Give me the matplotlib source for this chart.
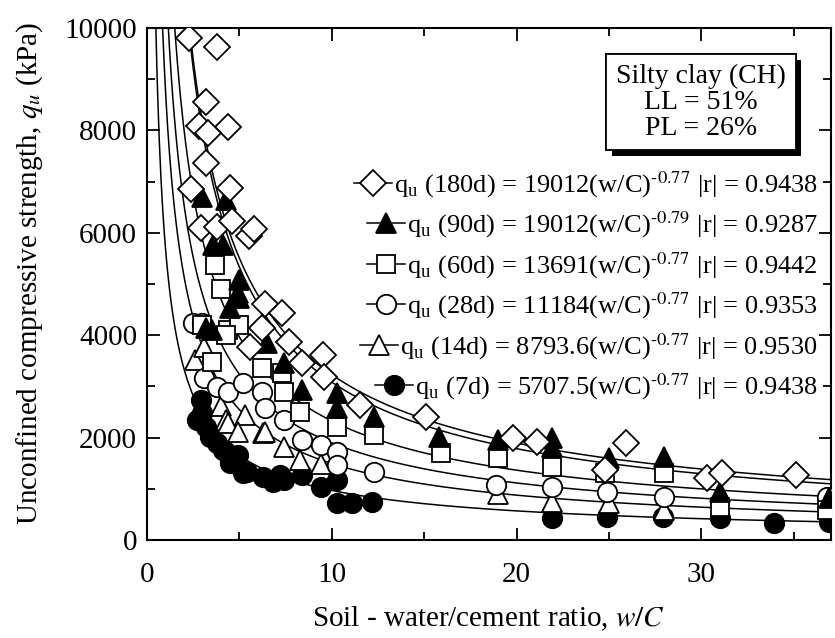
import numpy as np
import matplotlib
matplotlib.use('Agg')
import matplotlib.pyplot as plt
from matplotlib import patheffects

plt.rcParams['font.family'] = ['Liberation Serif', 'DejaVu Serif']
plt.rcParams['mathtext.fontset'] = 'stix'
plt.rcParams['font.size'] = 20

# measured qu (kPa) against w/C for each curing age
x180 = [2.3, 3.8, 3.2, 2.8, 4.4, 3.3, 3.2, 2.4, 4.5, 2.9, 3.8, 4.6, 5.5, 5.8, 6.4, 7.3, 6.2, 7.7,
        5.6, 8.4, 9.5, 9.6, 11.5, 15.1, 19.8, 21.1, 25.9, 24.8, 30.3, 31.1, 35.1]
y180 = [9800, 9630, 8560, 8090, 8070, 7950, 7360, 6860, 6880, 6090, 6110, 6230, 5940, 6070, 4600,
        4430, 4140, 3870, 3770, 3460, 3610, 3180, 2640, 2400, 1990, 1910, 1890, 1370, 1210, 1310, 1270]

x90 = [3.0, 4.3, 3.6, 4.1, 5.0, 4.9, 5.0, 4.5, 3.2, 3.5, 6.5, 7.4, 8.4, 10.3, 10.3, 12.3, 15.8,
       19.0, 21.9, 21.9, 25.0, 28.0, 31.0, 36.9]
y90 = [6700, 6640, 5760, 5760, 5080, 4820, 4730, 4530, 4140, 4100, 3850, 3460, 2930, 2870, 2580,
       2400, 2010, 1950, 1990, 1820, 1600, 1620, 940, 820]

x60 = [3.7, 4.0, 4.4, 3.0, 5.0, 3.5, 4.3, 6.2, 7.3, 7.4, 8.3, 10.3, 12.3, 15.9, 19.0, 21.9, 24.8,
       28.0, 31.0, 36.8]
y60 = [5370, 4900, 4100, 4200, 4200, 3480, 4000, 3360, 3260, 2890, 2500, 2210, 2050, 1700, 1600,
       1430, 1310, 1310, 650, 590]

x28 = [2.5, 3.0, 3.1, 3.8, 4.4, 5.2, 6.2, 6.4, 7.4, 8.4, 9.4, 10.3, 10.3, 12.3, 18.9, 21.9, 24.9,
       28.0, 36.8]
y28 = [4240, 4240, 3160, 2990, 2890, 3070, 2890, 2580, 2340, 1950, 1860, 1720, 1470, 1330, 1070,
       1040, 940, 840, 840]

x14 = [2.6, 3.1, 4.0, 4.3, 5.3, 4.4, 4.9, 6.3, 6.4, 7.4, 8.3, 9.4, 19.0, 21.9, 25.0, 28.0]
y14 = [3520, 3770, 2620, 2340, 2440, 2290, 2110, 2090, 2110, 1820, 1560, 1480, 900, 740, 720, 590]

x7 = [2.9, 3.0, 2.7, 3.2, 3.4, 3.8, 4.1, 4.3, 4.5, 4.9, 5.2, 5.4, 6.3, 6.8, 7.2, 7.4, 8.4, 9.4,
      10.3, 10.3, 11.1, 12.2, 21.9, 24.9, 27.9, 31.0, 33.9, 36.9]
y7 = [2730, 2480, 2350, 2200, 2010, 1900, 1760, 1720, 1500, 1660, 1310, 1330, 1230, 1130, 1270,
      1170, 1270, 1040, 1170, 720, 720, 740, 430, 450, 450, 430, 330, 350]

# fitted power laws qu = a (w/C)^b
ages = [180, 90, 60, 28, 14, 7]
coef = [19012, 19012, 13691, 11184, 8793.6, 5707.5]
expo = [-0.77, -0.79, -0.77, -0.77, -0.77, -0.77]
rval = [0.9438, 0.9287, 0.9442, 0.9353, 0.9530, 0.9438]

xs = [x180, x90, x60, x28, x14, x7]
ys = [y180, y90, y60, y28, y14, y7]
marks = [('D', 'white', 13.5), ('^', 'black', 15), ('s', 'white', 13),
         ('o', 'white', 14), ('^', 'white', 15), ('o', 'black', 14)]

fig = plt.figure(figsize=(8.35, 6.38), dpi=100)
ax = fig.add_axes([0.176, 0.1536, 0.819, 0.8025])

xx = np.linspace(0.3, 37, 800)
for a, b in zip(coef, expo):
    ax.plot(xx, a * xx ** b, color='black', lw=1.1, zorder=1)

# youngest first so older ages sit on top
for i in range(5, -1, -1):
    m, fc, ms = marks[i]
    ax.plot(xs[i], ys[i], ls='none', marker=m, ms=ms, mfc=fc, mec='black', mew=1.3, zorder=2 + (5 - i))

ax.set_xlim(0, 37)
ax.set_ylim(0, 10000)
ax.set_xticks([0, 10, 20, 30])
ax.set_xticks([5, 15, 25, 35], minor=True)
ax.set_yticks(np.arange(0, 10001, 2000))
ax.set_yticks(np.arange(1000, 10000, 2000), minor=True)
ax.tick_params(which='both', direction='in', top=True, right=True, width=1.3, labelsize=21)
ax.tick_params(which='major', length=9)
ax.tick_params(which='minor', length=6)
ax.tick_params(axis='x', which='major', pad=16)
ax.tick_params(axis='y', which='major', pad=7)
for s in ax.spines.values():
    s.set_linewidth(1.5)

ax.set_xlabel('Soil - water/cement ratio, $\\it{w/C}$', fontsize=21)
ax.set_ylabel('Unconfined compressive strength, $q_u$ (kPa)', fontsize=21)
ax.xaxis.set_label_coords(0.5, -0.127)
ax.yaxis.set_label_coords(-0.149, 0.52)

# equation rows with hand-made handles
row_y = [0.697, 0.619, 0.539, 0.461, 0.381, 0.303]
texts = []
for i in range(6):
    lab = ('q$_\\mathregular{u}$ (%dd) = %g(w/C)$^{\\text{%.2f}}$ |r| = %.4f'
           % (ages[i], coef[i], expo[i], rval[i]))
    t = ax.text(0.981, row_y[i] - 0.018, lab, transform=ax.transAxes, ha='right', va='baseline',
                fontsize=19)
    texts.append(t)

fig.canvas.draw()
rend = fig.canvas.get_renderer()
inv = ax.transAxes.inverted()
for i, t in enumerate(texts):
    bb = t.get_window_extent(rend)
    x1 = inv.transform((bb.x0 - 2, 0))[0]
    x0 = inv.transform((bb.x0 - 40, 0))[0]
    m, fc, ms = marks[i]
    ax.plot([x0, x1], [row_y[i], row_y[i]], color='black', lw=1.1, transform=ax.transAxes,
            clip_on=False, zorder=10)
    ax.plot([(x0 + x1) / 2], [row_y[i]], ls='none', marker=m, ms=ms, mfc=fc, mec='black', mew=1.3,
            transform=ax.transAxes, clip_on=False, zorder=11)

box = ax.text(0.81, 0.855, 'Silty clay (CH)\nLL = 51%\nPL = 26%', transform=ax.transAxes,
              ha='center', va='center', multialignment='center', linespacing=1.05,
              bbox=dict(boxstyle='square,pad=0.35', fc='white', ec='black', lw=1.3), zorder=12)
box.get_bbox_patch().set_path_effects([
    patheffects.withSimplePatchShadow(offset=(4, -4), shadow_rgbFace='black', alpha=1.0),
    patheffects.Normal()])

fig.savefig('out.png', dpi=100)
